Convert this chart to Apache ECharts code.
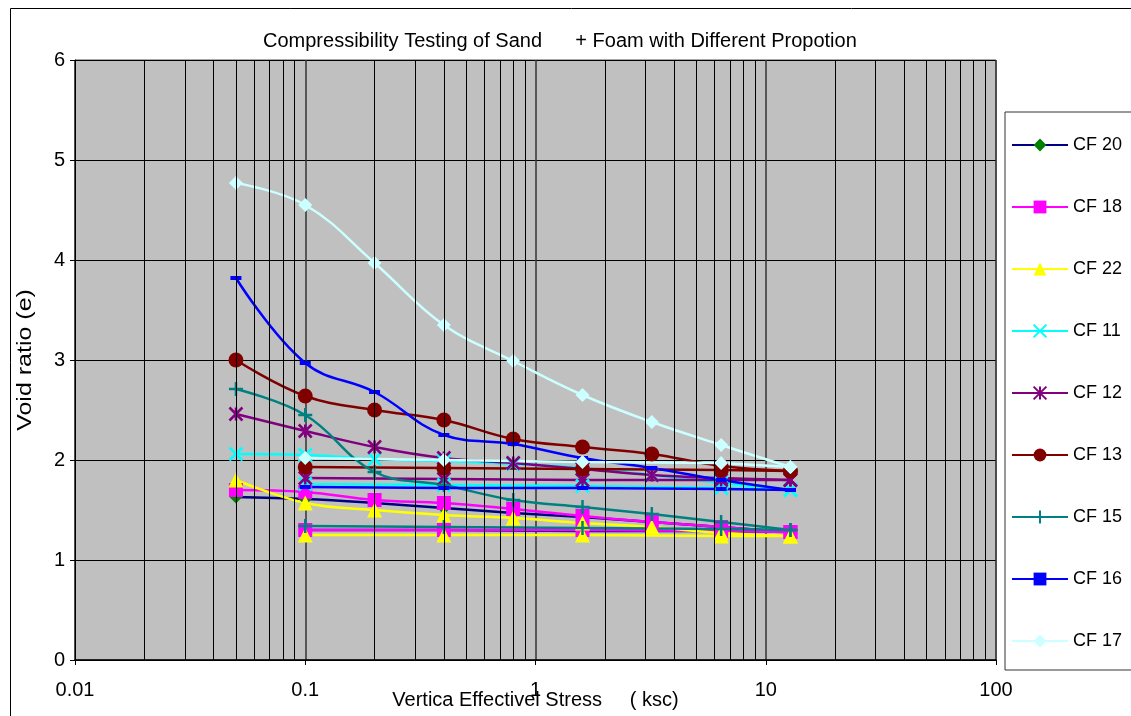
<!DOCTYPE html>
<html>
<head>
<meta charset="utf-8">
<script src="https://cdn.jsdelivr.net/npm/echarts@6/dist/echarts.min.js"></script>
<style>
  html, body { margin: 0; padding: 0; background: #fff; }
  #chart { width: 1131px; height: 716px; }
</style>
</head>
<body>
<div id="chart"></div>
<script>
// stress steps (ksc)
const stressLoad = [0.05, 0.1, 0.2, 0.4, 0.8, 1.6, 3.2, 6.4, 12.8];
const stressUnload = [12.8, 6.4, 1.6, 0.4, 0.1];

// void ratio, loading then unloading
const cf20Load = [1.63, 1.61, 1.57, 1.52, 1.47, 1.43, 1.38, 1.33, 1.28];
const cf20Unload = [1.28, 1.29, 1.29, 1.30, 1.30];
const cf18Load = [1.70, 1.68, 1.60, 1.57, 1.51, 1.44, 1.38, 1.33, 1.28];
const cf18Unload = [1.28, 1.29, 1.30, 1.30, 1.30];
const cf22Load = [1.80, 1.57, 1.50, 1.45, 1.42, 1.37, 1.33, 1.27, 1.24];
const cf22Unload = [1.24, 1.24, 1.25, 1.25, 1.25];
const cf11Load = [2.06, 2.05, 2.01, 1.99, 1.96, 1.92, 1.85, 1.77, 1.70];
const cf11Unload = [1.70, 1.72, 1.74, 1.75, 1.76];
const cf12Load = [2.46, 2.29, 2.13, 2.02, 1.97, 1.91, 1.85, 1.82, 1.80];
const cf12Unload = [1.80, 1.80, 1.80, 1.81, 1.82];
const cf13Load = [3.00, 2.64, 2.50, 2.40, 2.21, 2.13, 2.06, 1.94, 1.89];
const cf13Unload = [1.89, 1.90, 1.91, 1.92, 1.93];
const cf15Load = [2.71, 2.45, 1.88, 1.75, 1.60, 1.53, 1.46, 1.38, 1.30];
const cf15Unload = [1.30, 1.31, 1.32, 1.33, 1.34];
const cf16Load = [3.82, 2.97, 2.68, 2.25, 2.16, 2.02, 1.92, 1.80, 1.70];
const cf16Unload = [1.70, 1.71, 1.72, 1.72, 1.73];
const cf17Load = [4.77, 4.55, 3.97, 3.35, 2.99, 2.65, 2.38, 2.15, 1.93];
const cf17Unload = [1.93, 1.97, 1.98, 2.00, 2.02];

const minorTicks = [0.02, 0.03, 0.04, 0.05, 0.06, 0.07, 0.08, 0.09,
  0.2, 0.3, 0.4, 0.5, 0.6, 0.7, 0.8, 0.9,
  2, 3, 4, 5, 6, 7, 8, 9,
  20, 30, 40, 50, 60, 70, 80, 90];

const xMark = 'path://M0,0L10,10M10,0L0,10';
const starMark = 'path://M0,0L10,10M10,0L0,10M5,0L5,10';
const plusMark = 'path://M5,0L5,10M0,5L10,5';

const font = 'Liberation Sans, Arial, sans-serif';

const curves = [
  { name: 'CF 20', load: cf20Load, unload: cf20Unload, line: '#000080', mark: '#008000', symbol: 'diamond', size: 13 },
  { name: 'CF 18', load: cf18Load, unload: cf18Unload, line: '#ff00ff', mark: '#ff00ff', symbol: 'rect', size: 14 },
  { name: 'CF 22', load: cf22Load, unload: cf22Unload, line: '#ffff00', mark: '#ffff00', symbol: 'triangle', size: 15 },
  { name: 'CF 11', load: cf11Load, unload: cf11Unload, line: '#00ffff', mark: '#00ffff', symbol: xMark, size: 13, stroke: true },
  { name: 'CF 12', load: cf12Load, unload: cf12Unload, line: '#800080', mark: '#800080', symbol: starMark, size: 13, stroke: true },
  { name: 'CF 13', load: cf13Load, unload: cf13Unload, line: '#800000', mark: '#800000', symbol: 'circle', size: 15 },
  { name: 'CF 15', load: cf15Load, unload: cf15Unload, line: '#008080', mark: '#008080', symbol: plusMark, size: 14, stroke: true },
  { name: 'CF 16', load: cf16Load, unload: cf16Unload, line: '#0000ff', mark: '#0000ff', symbol: 'rect', size: [11, 4] },
  { name: 'CF 17', load: cf17Load, unload: cf17Unload, line: '#ccffff', mark: '#ccffff', symbol: 'diamond', size: 14 }
];

function makeSeries(c, xs, ys, smooth) {
  return {
    name: c.name,
    type: 'line',
    smooth: smooth,
    data: xs.map((x, i) => [x, ys[i]]),
    symbol: c.symbol,
    symbolSize: c.size,
    showAllSymbol: true,
    lineStyle: { color: c.line, width: 2.5 },
    itemStyle: c.stroke
      ? { color: c.mark, borderColor: c.mark, borderWidth: 2.5 }
      : { color: c.mark, borderWidth: 0 },
    emphasis: { disabled: true }
  };
}

const series = [{
  type: 'line',
  data: [],
  silent: true,
  markLine: {
    silent: true,
    symbol: 'none',
    label: { show: false },
    lineStyle: { color: '#000', width: 1, type: 'solid' },
    data: minorTicks.map(v => ({ xAxis: v }))
  }
}];
curves.forEach(c => {
  series.push(makeSeries(c, stressLoad, c.load, 0.4));
  series.push(makeSeries(c, stressUnload, c.unload, false));
});

const chart = echarts.init(document.getElementById('chart'));
chart.setOption({
  animation: false,
  textStyle: { fontFamily: font, color: '#000' },
  title: {
    text: 'Compressibility Testing of Sand      + Foam with Different Propotion',
    left: 258,
    top: 26,
    textStyle: { fontSize: 20, fontWeight: 'normal', color: '#000', fontFamily: font }
  },
  graphic: [{
    type: 'rect',
    shape: { x: 10.5, y: 8.5, width: 1140, height: 720 },
    style: { fill: 'none', stroke: '#000', lineWidth: 1 },
    silent: true
  }, {
    // y axis title, stretched along its length like the original
    type: 'text',
    x: 25,
    y: 360,
    rotation: Math.PI / 2,
    scaleX: 1.25,
    style: {
      text: 'Void ratio (e)',
      fontSize: 20,
      fontFamily: font,
      fill: '#000',
      align: 'center',
      verticalAlign: 'middle'
    },
    silent: true
  }],
  legend: {
    orient: 'vertical',
    left: 1005,
    top: 112,
    padding: [24, 80, 20, 6],
    itemGap: 44,
    itemWidth: 56,
    itemHeight: 16,
    borderColor: '#333',
    borderWidth: 1,
    backgroundColor: '#fff',
    data: curves.map(c => c.name),
    textStyle: { fontSize: 18, color: '#000' }
  },
  grid: {
    left: 75,
    top: 60,
    width: 921,
    height: 600,
    containLabel: false,
    outerBoundsMode: 'none',
    show: true,
    backgroundColor: '#c0c0c0',
    borderColor: '#555',
    borderWidth: 1
  },
  xAxis: {
    type: 'log',
    logBase: 10,
    min: 0.01,
    max: 100,
    name: 'Vertica Effectivel Stress     ( ksc)',
    nameLocation: 'middle',
    nameGap: 30,
    nameMoveOverlap: false,
    nameTextStyle: { fontSize: 20, color: '#000' },
    axisLine: { show: true, onZero: false, lineStyle: { color: '#000', width: 1.5 } },
    axisTick: { show: true, length: 5, lineStyle: { color: '#000' } },
    axisLabel: { fontSize: 20, color: '#000', margin: 20 },
    splitLine: { show: true, lineStyle: { color: '#333', width: 1.5 } }
  },
  yAxis: {
    type: 'value',
    min: 0,
    max: 6,
    interval: 1,
    axisLine: { show: true, lineStyle: { color: '#000', width: 1 } },
    axisTick: { show: true, length: 5, lineStyle: { color: '#000' } },
    axisLabel: { fontSize: 20, color: '#000', margin: 10 },
    splitLine: { show: true, lineStyle: { color: '#000', width: 1 } }
  },
  series: series
});
</script>
</body>
</html>
